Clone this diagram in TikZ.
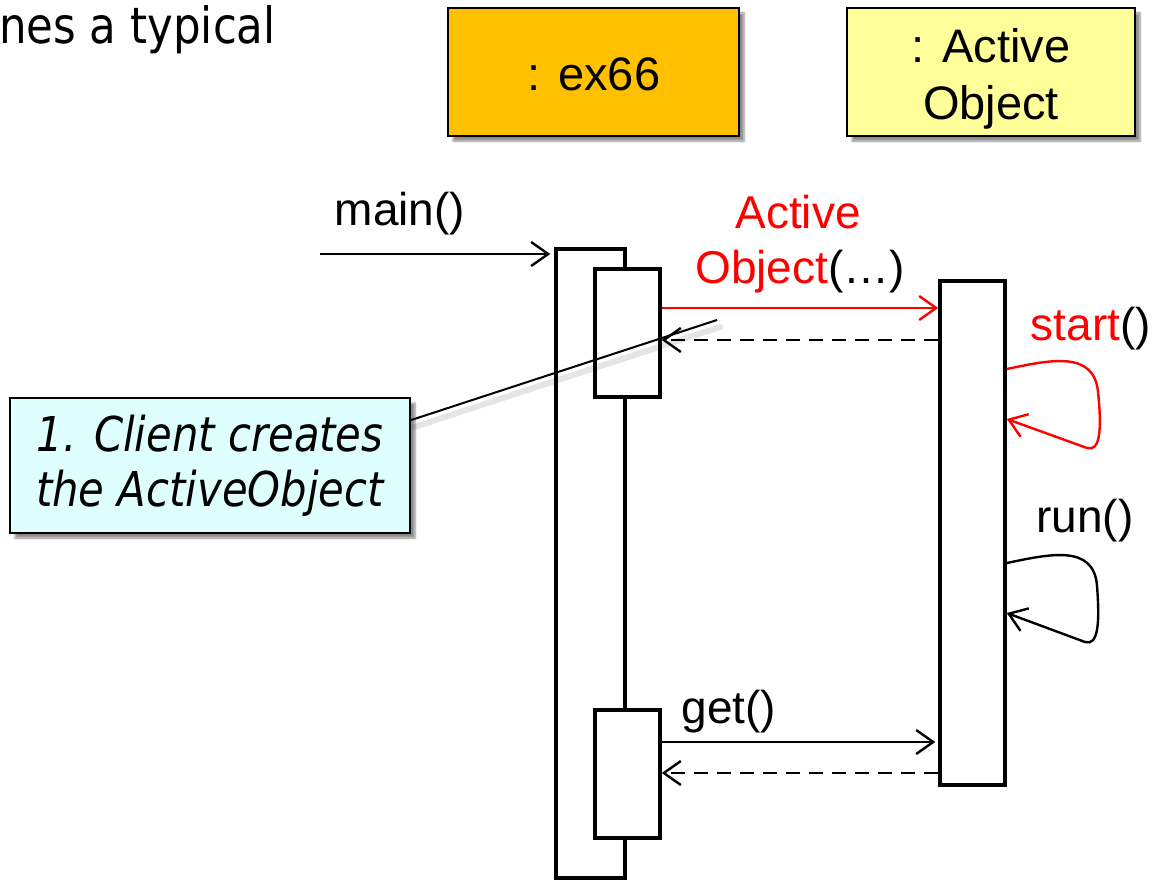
\documentclass[tikz,border=0pt]{standalone}
\usepackage{fontspec}
\setmainfont{Liberation Sans}
\newfontfamily\tahoma[FakeStretch=0.87]{DejaVu Sans}
\usetikzlibrary{arrows.meta,shadows.blur}
\definecolor{exorange}{HTML}{FFC000}
\definecolor{aoyellow}{HTML}{FFFF99}
\definecolor{notecyan}{HTML}{DFFFFF}
\definecolor{msgred}{HTML}{FF0000}
\begin{document}
\begin{tikzpicture}[x=1pt,y=-1pt,
  lbl/.style={font=\fontsize{46}{55}\selectfont, inner sep=0pt, anchor=base},
  objbox/.style={draw, line width=2.8pt, inner sep=0pt, align=center,
    font=\fontsize{47}{57}\selectfont,
    blur shadow={shadow xshift=5pt, shadow yshift=-5pt, shadow blur steps=6, shadow opacity=45}},
  actbox/.style={draw, fill=white, line width=3.5pt, inner sep=0pt},
  msg/.style={line width=2.4pt, -{Straight Barb[length=17pt,width=24pt]}},
  retmsg/.style={msg, dash pattern=on 14pt off 9pt},
]
\useasboundingbox (0,0) rectangle (1155,880);
\clip (0,0) rectangle (1155,880);

% top text
\node[font=\tahoma\fontsize{50}{55}\selectfont, inner sep=0pt, anchor=base west] (title) at (-1,44) {nes a typical};

% object boxes
\node[objbox, fill=exorange, minimum width=291pt, minimum height=128pt] (ex) at (593.5,72) {};
\node[lbl, font=\fontsize{47}{57}\selectfont] (exlbl) at (594,91) {: ex66};
\node[objbox, fill=aoyellow, minimum width=288pt, minimum height=128pt] (ao) at (991,72) {};
\node[lbl, font=\fontsize{47}{57}\selectfont] (aolbl1) at (991,63) {: Active};
\node[lbl, font=\fontsize{47}{57}\selectfont] (aolbl2) at (991,120) {Object};

% activations
\node[actbox, minimum width=69pt, minimum height=629pt] (act1) at (590.5,563.5) {};
\node[actbox, minimum width=65pt, minimum height=128pt] (act1a) at (627.5,333) {};
\node[actbox, minimum width=65pt, minimum height=128pt] (act1b) at (627.5,774) {};
\node[actbox, minimum width=65pt, minimum height=504pt] (act2) at (972.5,533) {};

% main()
\coordinate (mainstart) at (320,254);
\node[lbl] (mainlbl) at (400,225) {main()};
\draw[msg, shorten >=4pt] (mainstart) -- (act1.west |- mainstart);

% constructor call
\node[lbl, text=msgred] (ctor1) at (798,228) {Active};
\node[lbl] (ctor2) at (800,283) {\textcolor{msgred}{Object}(…)};
\draw[msg, draw=msgred] (act1a.east |- 0,308) -- (act2.west |- 0,308);
\draw[retmsg] (act2.west |- 0,340) -- (act1a.east |- 0,340);

% start() self call
\node[lbl] (startlbl) at (1091,340) {\textcolor{msgred}{start}()};
\draw[msg, draw=msgred] (act2.east |- 0,369) .. controls (1050,360) and (1094,350) .. (1098,392)
  .. controls (1102,430) and (1100,452) .. (1087,448) -- (act2.east |- 0,419);

% run() self call
\node[lbl] (runlbl) at (1085,532) {run()};
\draw[msg] (act2.east |- 0,563) .. controls (1050,554) and (1094,544) .. (1097,586)
  .. controls (1100,624) and (1098,646) .. (1085,642) -- (act2.east |- 0,613);

% get()
\node[lbl] (getlbl) at (729,723) {get()};
\draw[msg] (act1b.east |- 0,742) -- ([xshift=-3pt]act2.west |- 0,742);
\draw[retmsg] (act2.west |- 0,773) -- (act1b.east |- 0,773);

% note
\node[draw, line width=2.4pt, fill=notecyan, minimum width=400pt, minimum height=135pt,
  inner sep=0pt, align=center, font=\tahoma\itshape\fontsize{48}{55}\selectfont,
  blur shadow={shadow xshift=5pt, shadow yshift=-5pt, shadow blur steps=6, shadow opacity=45}]
  (note) at (210,465.5) {1. Client creates\\the ActiveObject};
\coordinate (noteend) at (717,320);
\draw[line width=6pt, black, opacity=0.1, line cap=round] ([xshift=3pt,yshift=-7pt]note.east |- 0,420) -- ([xshift=3pt,yshift=-7pt]noteend);
\draw[line width=2pt] (note.east |- 0,420) -- (noteend);
\end{tikzpicture}
\end{document}
